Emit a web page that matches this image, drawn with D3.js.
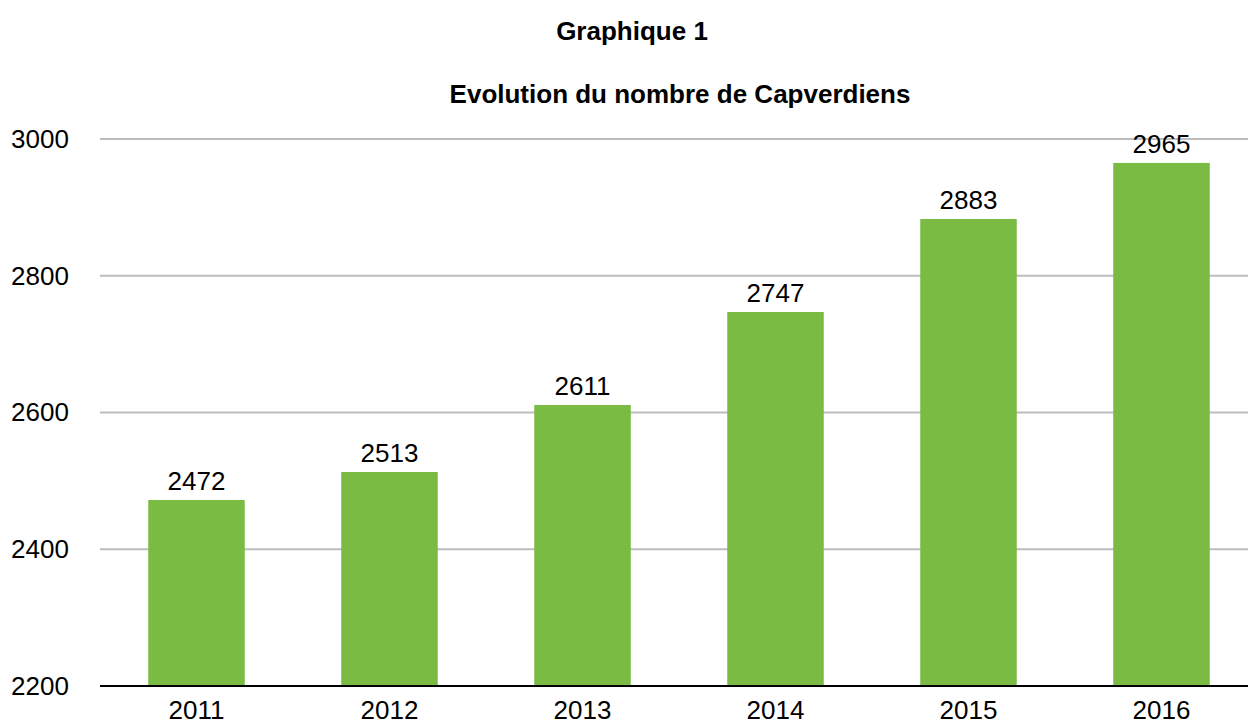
<!DOCTYPE html>
<html lang="fr">
<head>
  <meta charset="UTF-8">
  <title>Graphique 1</title>
  <style>
    body { margin: 0; background: #fff; }
    svg { display: block; font-family: "Liberation Sans", Arial, sans-serif; }
  </style>
</head>
<body>
  <svg width="1248" height="725"></svg>
  <script src="https://d3js.org/d3.v7.min.js"></script>
  <script>
    var years = ["2011", "2012", "2013", "2014", "2015", "2016"];
    var counts = [2472, 2513, 2611, 2747, 2883, 2965];
    var yTicks = [2200, 2400, 2600, 2800, 3000];

    var svg = d3.select("svg"),
        margin = {top: 139, left: 100, bottom: 39},
        height = +svg.attr("height") - margin.top - margin.bottom;

    var x = d3.scaleBand().domain(years).range([margin.left, 1258]).paddingInner(0.5).paddingOuter(0.25),
        y = d3.scaleLinear().domain([2200, 3000]).range([margin.top + height, margin.top]);

    svg.append("text")
      .attr("x", 632).attr("y", 40)
      .attr("text-anchor", "middle")
      .style("font-size", "26px").style("font-weight", "bold")
      .text("Graphique 1");

    svg.append("text")
      .attr("x", 680).attr("y", 103)
      .attr("text-anchor", "middle")
      .style("font-size", "26px").style("font-weight", "bold")
      .text("Evolution du nombre de Capverdiens");

    // grid lines
    svg.append("g")
      .selectAll("line")
      .data(yTicks.filter(d => d > 2200))
      .enter().append("line")
      .attr("x1", margin.left).attr("x2", 1248)
      .attr("y1", d => y(d)).attr("y2", d => y(d))
      .attr("stroke", "#bdbdbd").attr("stroke-width", 2);

    var yAxis = d3.axisLeft(y).tickValues(yTicks).tickFormat(d3.format("d")).tickSize(0).tickPadding(0);
    var ya = svg.append("g").attr("transform", "translate(70,0)").call(yAxis);
    ya.select(".domain").remove();
    ya.selectAll("text").style("font-size", "26px").attr("fill", "#000")
      .attr("text-anchor", "middle").attr("x", -30);

    svg.append("g")
      .selectAll("rect")
      .data(counts)
      .enter().append("rect")
      .attr("x", (d, i) => x(years[i]))
      .attr("width", x.bandwidth())
      .attr("y", d => y(d))
      .attr("height", d => y(2200) - y(d))
      .attr("fill", "#7abb43");

    svg.append("g")
      .selectAll("text")
      .data(counts)
      .enter().append("text")
      .attr("x", (d, i) => x(years[i]) + x.bandwidth() / 2)
      .attr("y", d => y(d) - 10)
      .attr("text-anchor", "middle")
      .style("font-size", "26px")
      .text(d => d);

    var xAxis = d3.axisBottom(x).tickSize(0).tickPadding(15);
    var xa = svg.append("g").attr("transform", "translate(0," + y(2200) + ")").call(xAxis);
    xa.select(".domain").remove();
    xa.selectAll("text").style("font-size", "26px").attr("fill", "#000");

    svg.append("line")
      .attr("x1", margin.left).attr("x2", 1248)
      .attr("y1", y(2200)).attr("y2", y(2200))
      .attr("stroke", "#000").attr("stroke-width", 2);
  </script>
</body>
</html>
